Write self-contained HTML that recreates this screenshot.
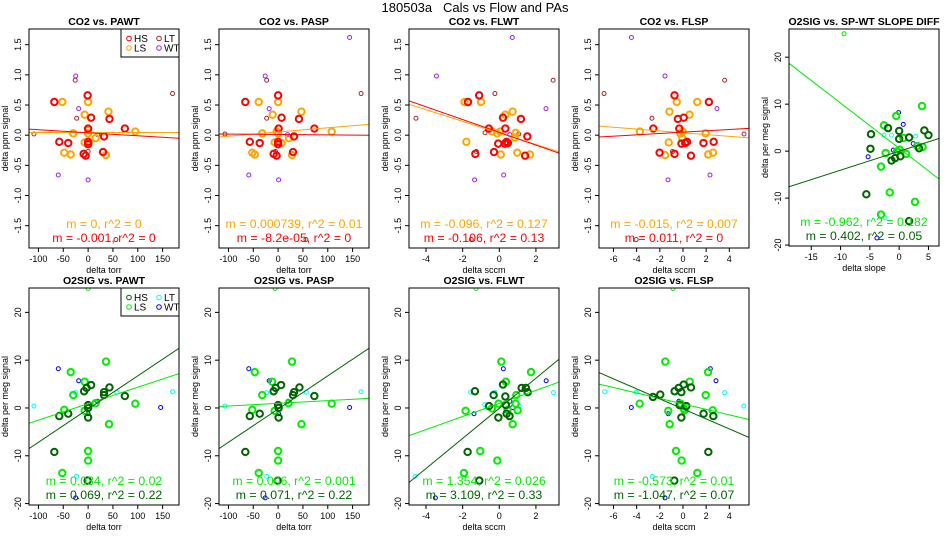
<!DOCTYPE html>
<html><head><meta charset="utf-8"><style>
html,body{margin:0;padding:0;background:#fff;}
svg{display:block;font-family:"Liberation Sans",sans-serif;}
</style></head><body>
<svg id="chart" width="950" height="550" viewBox="0 0 950 550" xmlns="http://www.w3.org/2000/svg">
<text x="475" y="12" text-anchor="middle" font-size="13" style="white-space:pre" xml:space="preserve">180503a   Cals vs Flow and PAs</text>
</svg>
<script>
// ---------- data (top row: CO2; bottom row: O2SIG) ----------
const p1HS=[[-68,0.55],[-58,-0.11],[-40,-0.13],[-1,0.66],[0,0.11],[6,0.29],[0,-0.11],[0,-0.15],[-9,-0.31],[-5,-0.34],[32,-0.02],[30,-0.28],[43,0.27],[74,0.11]];
const p1LS=[[-52,0.55],[0,0.55],[-30,0.03],[-48,-0.29],[-35,-0.32],[-7,0.34],[0,0.08],[0,0.03],[-7,-0.12],[1,-0.13],[15,-0.05],[36,-0.33],[41,0.39],[95,0.06]];
const p1LT=[[-109,0.02],[-26,0.91],[-23,0.28],[0,-0.27],[170,0.69],[56,-1.73]];
const p1WT=[[-25,0.98],[-19,0.44],[-60,-0.66],[0,-0.74],[19,0.01]];
const p2HS=[[-66,0.55],[-57,-0.11],[-37,-0.13],[0,0.66],[1,0.11],[7,0.29],[0,-0.11],[0,-0.15],[-9,-0.31],[-3,-0.34],[32,-0.02],[30,-0.28],[42,0.27],[73,0.11]];
const p2LS=[[-39,0.55],[0,0.55],[-32,0.03],[-52,-0.29],[-47,-0.32],[-11,0.34],[-3,0.06],[0,0.03],[-7,-0.12],[7,-0.13],[22,-0.05],[28,-0.33],[47,0.39],[108,0.06]];
const p2LT=[[-107,0.02],[-23,0.91],[-23,0.28],[-5,-0.27],[167,0.69],[56,-1.73]];
const p2WT=[[-26,0.98],[-18,0.44],[-59,-0.66],[1,-0.74],[19,0.01],[144,1.62]];
const p3HS=[[-1.71,0.55],[-1.1,0.66],[-0.57,0.11],[0.2,0.29],[0.33,0.11],[-0.06,-0.14],[0.39,-0.11],[0.47,-0.13],[-1.31,-0.31],[-0.29,-0.28],[1.18,0.27],[1.53,-0.02],[1.41,-0.34],[0.31,-0.14]];
const p3LS=[[-1.9,0.55],[-1.0,0.55],[-1.8,-0.11],[0.33,0.34],[0.73,0.39],[-0.39,0.06],[-0.12,0.03],[0.04,0.06],[0.08,-0.32],[0.9,0.04],[0.84,-0.04],[0.98,-0.29],[1.67,-0.32],[0.43,-0.13]];
const p3LT=[[-4.55,0.28],[-0.24,0.69],[-0.78,0.04],[-1.25,-0.27],[1.06,0.02],[2.94,0.91],[-1.53,-1.73]];
const p3WT=[[-3.43,0.98],[0.71,1.62],[2.55,0.44],[0.57,0.01],[0.24,-0.66],[-1.35,-0.74]];
const p4HS=[[-0.73,0.66],[2.24,0.55],[0.06,0.29],[-0.44,0.27],[-0.32,0.11],[-2.56,0.11],[0.35,-0.11],[-0.13,-0.14],[1.77,-0.13],[2.65,-0.11],[-2.02,-0.29],[-0.73,-0.31],[0.69,-0.34],[0.19,-0.13]];
const p4LS=[[-0.54,0.55],[1.23,0.55],[-1.17,0.39],[0.57,0.34],[-3.72,0.06],[-0.03,0.06],[1.96,0.03],[-1.23,-0.12],[0.19,-0.13],[-0.06,-0.05],[-1.55,-0.33],[2.18,-0.32],[2.59,-0.29],[-0.22,0.03]];
const p4LT=[[-6.81,0.69],[-2.68,0.28],[3.6,0.91],[5.27,0.02],[-0.91,-0.27],[-4.04,-1.73]];
const p4WT=[[-4.45,1.62],[-1.55,0.98],[2.93,0.44],[-0.32,0.01],[-1.29,-0.74],[2.33,-0.66]];
const p5HS=[[-4.8,3.6],[-1.9,4.9],[0,4.3],[0,2.6],[1.7,2.9],[4.3,4.4],[5,3.4],[-4.9,0.5],[3.4,0.6],[-1.3,-2.0],[-0.7,-1.5],[0.2,-1.1],[-5.6,-9.2],[1.7,-14.9]];
const p5LS=[[-2.6,5.5],[-0.5,7.5],[3.9,9.6],[0.7,2.8],[3.1,1.1],[4.0,0.9],[-2.3,-0.4],[-0.4,-0.1],[0.1,0.3],[1.2,-0.6],[-3.1,-3.3],[-1.6,-8.8],[2.7,-10.8],[-3.1,-13.5]];
const p5X=[[-9.4,25]];
const p5LT=[[-2.6,3.4],[-1.3,3.4],[2.8,3.2],[-2.4,-14.2],[0.2,0.6]];
const p5WT=[[-0.1,8.2],[0.7,5.7],[-5.3,-1.2],[-1,0.2],[2.4,1.6],[-3.8,-18.5]];
const p6HS=[[-68,-9.2],[-58,-1.7],[-40,-1.2],[-8,3.5],[-3,4.2],[6,4.8],[0,0.6],[0,0],[0,-2.0],[32,2.7],[32,3.3],[43,4.3],[74,2.5],[-1,-15.2]];
const p6LS=[[-35,7.5],[36,9.7],[-7,5.5],[-30,2.7],[-48,-0.4],[-7,-0.6],[15,1.0],[95,0.9],[42,-3.4],[0,-9.0],[0,-11],[-52,-13.6]];
const p6X=[[0,25]];
const p6LT=[[-109,0.4],[-25,3.2],[58,3.3],[170,3.4],[-23,-14.3]];
const p6WT=[[-60,8.2],[-19,5.7],[19,1.4],[0,-1.2],[146,0.1],[-25,-18.8]];
const p7HS=[[-66,-9.2],[-57,-1.7],[-37,-1.2],[-9,3.5],[-5,4.2],[6,4.8],[0,0.6],[1,0],[1,-2.0],[30,2.7],[32,3.3],[43,4.3],[73,2.5],[-1,-15.2]];
const p7LS=[[-47,7.5],[28,9.7],[-12,5.5],[-32,2.7],[-52,-0.4],[-7,-0.6],[21,1.0],[108,0.9],[47,-3.4],[0,-9.0],[0,-11],[-39,-13.6]];
const p7X=[[-6,25]];
const p7LT=[[-107,0.4],[-23,3.2],[57,3.3],[167,3.4],[-23,-14.3]];
const p7WT=[[-59,8.2],[-18,5.7],[20,1.4],[1,-1.2],[144,0.1],[-26,-18.8]];
const p8HS=[[-1.33,3.5],[-0.31,2.7],[0.2,4.9],[0.33,2.4],[0.36,0.6],[-0.05,-2.0],[0.4,-1.2],[0.56,-1.7],[1.22,4.2],[1.45,4.2],[1.55,3.3],[-0.56,0.4],[-1.73,-9.2],[-1.09,-15.2]];
const p8LS=[[0.11,9.7],[1.73,7.5],[0.36,5.5],[0.93,2.7],[-1.84,-0.6],[-0.04,0.9],[0.89,0.9],[1.0,-0.5],[-0.4,-0.1],[0.45,-0.4],[0.73,-3.4],[-1.04,-9.0],[-0.11,-11],[-1.93,-13.6]];
const p8X=[[-1.27,25]];
const p8LT=[[-1.56,3.3],[-0.24,3.3],[1.09,0.4],[2.96,3.2],[-4.6,-14.3],[-0.8,0.7]];
const p8WT=[[0.22,8.2],[2.56,5.7],[0.58,1.4],[0.73,0.1],[-1.38,-1.2],[-3.49,-18.8]];
const p9HS=[[-2.59,2.3],[-1.96,2.8],[-0.72,3.5],[-0.37,4.2],[-0.14,3.3],[0.06,4.9],[0.69,4.3],[-0.29,0.6],[0.29,0.4],[-0.14,-2.0],[1.78,-1.2],[2.62,-1.7],[2.19,-9.2],[-0.75,-15.2]];
const p9LS=[[-1.53,9.7],[2.16,7.5],[0.58,5.5],[1.96,2.7],[-3.74,0.9],[-1.27,-0.6],[-0.2,0.9],[0.06,-0.1],[0.14,-0.5],[2.56,-0.5],[-1.15,-3.4],[-0.6,-9.0],[-0.12,-11],[1.24,-13.6]];
const p9X=[[-0.86,25]];
const p9LT=[[-6.76,3.4],[-4.03,3.3],[3.6,3.2],[5.24,0.4],[-2.65,-14.3]];
const p9WT=[[-4.46,0.1],[-1.27,-1.2],[-0.35,1.4],[2.36,8.2],[2.85,5.7],[-1.55,-18.8]];
// fit lines: [slope, intercept] for LS and HS
const fitLS=[[0,0.045],[0.000695,0.053],[-0.096,0.037],[-0.015,0.041],[-0.962,0.61],[0.0344,0.9],[0.0056,0.97],[1.37,0.95],[-0.573,0.85]];
const fitHS=[[-0.0005,0.04],[-0.00007,0.012],[-0.106,0.047],[0.011,0.05],[0.402,-0.04],[0.0695,-0.23],[0.0695,-0.23],[3.15,-0.07],[-1.047,-0.19]];
const statLS=["m = 0, r^2 = 0","m = 0.000739, r^2 = 0.01","m = -0.096, r^2 = 0.127","m = -0.015, r^2 = 0.007","m = -0.962, r^2 = 0.182","m = 0.034, r^2 = 0.02","m = 0.006, r^2 = 0.001","m = 1.354, r^2 = 0.026","m = -0.573, r^2 = 0.01"];
const statHS=["m = -0.001, r^2 = 0","m = -8.2e-05, r^2 = 0","m = -0.106, r^2 = 0.13","m = 0.011, r^2 = 0","m = 0.402, r^2 = 0.05","m = 0.069, r^2 = 0.22","m = 0.071, r^2 = 0.22","m = 3.109, r^2 = 0.33","m = -1.047, r^2 = 0.07"];
const titles=["CO2 vs. PAWT","CO2 vs. PASP","CO2 vs. FLWT","CO2 vs. FLSP","O2SIG vs. SP-WT SLOPE DIFF","O2SIG vs. PAWT","O2SIG vs. PASP","O2SIG vs. FLWT","O2SIG vs. FLSP"];
const xTitles=["delta torr","delta torr","delta sccm","delta sccm","delta slope","delta torr","delta torr","delta sccm","delta sccm"];
const xTicks=[[-100,-50,0,50,100,150],[-100,-50,0,50,100,150],[-4,-2,0,2],[-6,-4,-2,0,2,4],[-15,-10,-5,0,5],[-100,-50,0,50,100,150],[-100,-50,0,50,100,150],[-4,-2,0,2],[-6,-4,-2,0,2,4]];
const yTicksTop=[-1.5,-1.0,-0.5,0.0,0.5,1.0,1.5];
const yTicksBot=[-20,-10,0,10,20];
const xRanges=[[-119,183],[-119,183],[-4.93,3.26],[-7.25,5.7],[-18.8,6.8],[-119,183],[-119,183],[-4.93,3.26],[-7.25,5.7]];

const NS="http://www.w3.org/2000/svg";
const svg=document.getElementById('chart');
function mk(tag,attrs,parent){const e=document.createElementNS(NS,tag);for(const k in attrs)e.setAttribute(k,attrs[k]);(parent||svg).appendChild(e);return e;}
const groups=[
 [p1HS,p1LS,[],p1LT,p1WT],[p2HS,p2LS,[],p2LT,p2WT],[p3HS,p3LS,[],p3LT,p3WT],[p4HS,p4LS,[],p4LT,p4WT],
 [p5HS,p5LS,p5X,p5LT,p5WT],[p6HS,p6LS,p6X,p6LT,p6WT],[p7HS,p7LS,p7X,p7LT,p7WT],[p8HS,p8LS,p8X,p8LT,p8WT],[p9HS,p9LS,p9X,p9LT,p9WT]];
const topCols=["#ff0000","#ffa500","#ffa500","#a52a2a","#a020f0"];
const botCols=["#006400","#00ee00","#00ee00","#00ffff","#0000ff"];
const pos=[[29,29],[219,29],[409,29],[599,29],[789,29],[29,288],[219,288],[409,288],[599,288]];
for(let p=0;p<9;p++){
  const [L,T]=pos[p];const W=150;const top=p<4;const H=top?219:217;
  const yr=top?[-1.87,1.76]:(p==4?[-20.2,26]:[-20.3,25.1]);
  const xr=xRanges[p];
  const sx=v=>L+(v-xr[0])/(xr[1]-xr[0])*W;
  const sy=v=>T+H-(v-yr[0])/(yr[1]-yr[0])*H;
  const cols=(p<4)?topCols:botCols;
  const g=mk('g',{});
  
  
  const clipId='c'+p;
  const cp=mk('clipPath',{id:clipId},g);mk('rect',{x:L,y:T,width:W,height:H},cp);
  const t=mk('text',{x:L+W/2,y:T-4,'text-anchor':'middle','font-size':'10.5','font-weight':'bold'},g);t.textContent=titles[p];
  
  
  xTicks[p].forEach(v=>{const x=sx(v);mk('line',{x1:x,x2:x,y1:T+H,y2:T+H+4,stroke:'#000','stroke-width':1},g);
    const tt=mk('text',{x:x,y:T+H+14,'text-anchor':'middle','font-size':'9'},g);tt.textContent=v;
    
    });
  const xt=mk('text',{x:L+W/2,y:T+H+25,'text-anchor':'middle','font-size':'9'},g);xt.textContent=xTitles[p];
  
  
  const yt=top?yTicksTop:yTicksBot;
  yt.forEach(v=>{const y=sy(v);mk('line',{x1:L-4,x2:L,y1:y,y2:y,stroke:'#000','stroke-width':1},g);
    const tt=mk('text',{x:0,y:0,'text-anchor':'middle','font-size':'9',transform:`translate(${L-8},${y}) rotate(-90)`},g);
    tt.textContent=top?v.toFixed(1):v;
    
    });
  const ytl=mk('text',{x:0,y:0,'text-anchor':'middle','font-size':'9',transform:`translate(${L-21},${T+H/2}) rotate(-90)`},g);
  ytl.textContent=top?"delta ppm signal":"delta per meg signal";
  
  
  const pg=mk('g',{'clip-path':`url(#${clipId})`},g);
  const order=[3,4,2,1,0];
  order.forEach(gi=>{groups[p][gi].forEach(d=>{
    const thick=gi<2;
    const c=mk('circle',{cx:sx(d[0]),cy:sy(d[1]),r:thick?3.2:2,fill:'none',stroke:cols[gi],'stroke-width':thick?2:1},pg);
    
    
  });});
  [[fitLS[p],cols[1]],[fitHS[p],cols[0]]].forEach(([f,c])=>{
    const l=mk('line',{x1:sx(xr[0]),y1:sy(f[0]*xr[0]+f[1]),x2:sx(xr[1]),y2:sy(f[0]*xr[1]+f[1]),stroke:c,'stroke-width':1},pg);
    
    
  });
  const a1=mk('text',{x:L+W/2,y:T+H-20,'text-anchor':'middle','font-size':'12.3',fill:cols[1]},g);a1.textContent=statLS[p];
  
  
  const a2=mk('text',{x:L+W/2,y:T+H-6,'text-anchor':'middle','font-size':'12.3',fill:cols[0]},g);a2.textContent=statHS[p];
  
  
  mk('rect',{x:L,y:T,width:W,height:H,fill:'none',stroke:'#000','stroke-width':1},g);
  if(p==0||p==5){
    const lg=mk('g',{},g);
    
    
    mk('rect',{x:L+92,y:T,width:58,height:28,fill:'#fff',stroke:'#000','stroke-width':1},lg);
    const items=[["HS",0,0],["LS",1,0],["LT",3,1],["WT",4,1]];
    items.forEach((it,i)=>{const row=(i%2);const colx=it[2]?L+130:L+100;const y=T+9.5+row*9.5;
      mk('circle',{cx:colx,cy:y,r:2.3,fill:'none',stroke:cols[it[1]],'stroke-width':1},lg);
      const tx=mk('text',{x:colx+5,y:y+3.5,'font-size':'10'},lg);tx.textContent=it[0];
      
      });
  }
}
</script>
</body></html>
